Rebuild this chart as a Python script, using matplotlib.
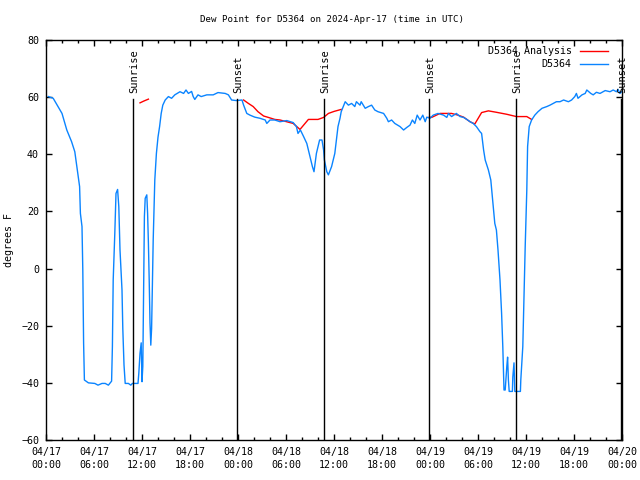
import numpy as np
import matplotlib
matplotlib.use("Agg")
import matplotlib.pyplot as plt

# hours since 04/17 00:00 UTC
obs_hours = [0.3, 0.9, 1.5, 2.0, 2.6, 3.2, 3.6, 3.8, 4.2, 4.3, 4.5, 4.6, 4.7, 4.8, 5.3, 6.1, 6.5, 7.0, 7.4, 7.8,
             8.2, 8.3, 8.4, 8.6, 8.75, 8.95, 9.1, 9.25, 9.5, 9.6, 9.75, 9.9, 10.3, 10.6, 10.8, 11.5, 11.6, 11.75,
             11.9, 12.0, 12.1, 12.3, 12.4, 12.6, 12.7, 12.8, 12.9, 13.0, 13.1, 13.2, 13.3, 13.4, 13.6, 13.8, 14.0,
             14.2, 14.4, 14.6, 14.9, 15.3, 15.7, 16.1, 16.75, 17.2, 17.5, 17.8, 18.2, 18.4, 18.6, 19.0, 19.4, 20.1,
             20.9, 21.5, 22.4, 22.8, 23.2, 23.8, 24.5, 24.7, 25.1, 25.5, 26.1, 26.75, 27.4, 27.6, 28.0, 28.6, 29.25,
             30.1, 30.9, 31.3, 31.5, 31.8, 32.2, 32.6, 33.0, 33.3, 33.5, 33.8, 34.2, 34.5, 34.7, 34.8, 35.1, 35.3,
             35.7, 36.1, 36.5, 36.75, 36.9, 37.4, 37.8, 38.2, 38.6, 38.8, 39.25, 39.4, 39.9, 40.3, 40.7, 41.1, 41.5,
             42.2, 42.6, 42.8, 43.2, 43.6, 44.25, 44.7, 45.1, 45.5, 45.8, 46.1, 46.4, 46.75, 47.1, 47.4, 47.6, 48.0,
             48.4, 49.0, 49.7, 50.1, 50.3, 50.7, 51.3, 51.75, 52.2, 52.6, 53.0, 53.4, 53.8, 54.25, 54.45, 54.7,
             54.9, 55.3, 55.6, 55.9, 56.1, 56.3, 56.5, 56.75, 56.95, 57.1, 57.2, 57.25, 57.4, 57.6, 57.7, 57.8,
             57.9, 58.3, 58.35, 58.5, 58.6, 59.3, 59.35, 59.6, 59.9, 60.1, 60.2, 60.4, 60.7, 61.1, 61.5, 62.0, 62.6,
             63.0, 63.4, 63.8, 64.25, 64.7, 65.3, 65.7, 66.1, 66.3, 66.5, 67.0, 67.4, 67.6, 68.1, 68.4, 68.8, 69.25,
             69.9, 70.5, 70.9, 71.3, 71.5, 71.75, 72.0]
obs_dew = [60.2, 59.6, 56.7, 54.3, 48.5, 44.4, 40.9, 36.8, 28.7, 19.3, 14.7, -0.5, -26, -39, -40, -40.2, -40.8, -40.2,
           -40.2, -40.8, -39.4, -27.3, -4, 12.3, 26.3, 27.7, 21.7, 6.5, -7.5, -21, -33.7, -40.2, -40.2, -40.8, -40.2,
           -40.2, -36.7, -29.7, -26, -39.6, -34.3, 18.2, 24.6, 25.8, 19.3, 9, -4, -19, -26.8, -21, -6, 10, 31, 40.3,
           46, 49.7, 54.3, 57.2, 59, 60.2, 59.6, 60.8, 61.9, 61.3, 62.5, 61.3, 62, 60.2, 59.2, 60.8, 60.2, 60.8, 60.8,
           61.6, 61.3, 60.8, 59, 58.8, 59, 57.2, 54.3, 53.7, 53, 52.6, 52, 50.8, 52, 52, 51.4, 51.8, 51.1, 49.7, 47.3,
           48.5, 46.2, 43.8, 39.2, 35.7, 33.9, 40.3, 45, 45, 41.5, 38, 33.9, 32.8, 35.7, 40.3, 49.7, 52.6, 54.9, 58.4,
           57.2, 57.8, 56.7, 58.4, 57.2, 58.4, 56.1, 56.7, 57.2, 55.5, 54.9, 54.3, 52.6, 51.4, 52, 50.8, 49.7, 48.5,
           49.4, 50.2, 52, 50.8, 53.7, 52, 53.7, 51.4, 53, 52.6, 53.7, 54.3, 53.7, 52.9, 54.3, 53.2, 54.3, 53.2, 52.9,
           52.2, 51.4, 50.8, 49.7, 47.9, 47.3, 41.5, 38, 34.5, 31, 21.7, 15.8, 13.5, 6.5, -4, -15.7, -27.3, -36.7,
           -42.5, -42.5, -34.3, -31, -39, -43, -43, -38, -33, -43, -43, -39, -27.3, 7.7, 27.5, 42.7, 49.7, 52, 53.7,
           54.9, 56.1, 56.7, 57.2, 57.8, 58.4, 58.4, 59, 58.4, 59, 60.2, 61.3, 59.6, 60.8, 61.3, 62.5, 61.3, 60.8,
           61.7, 61.3, 62.3, 61.9, 62.5, 61.9, 62.7, 61.3, 62]

# analysis series, NaN marks the gaps
ana_hours = [11.75, 12.2, 12.8, np.nan,
             24.7, 25.3, 25.9, 26.5, 27.2, 27.8, 28.6, 29.25, 30.9, 31.75, 32.8, 34.0, 34.7, 35.3, 36.0, 36.9, np.nan,
             47.9, 48.2, 49.25, 50.7, 51.5, 52.2, 53.0, 53.6, 54.45, 55.3, 56.3, 57.6, 58.8, 60.1, 60.7]
ana_dew = [58, 58.6, 59.3, np.nan,
           59, 57.8, 56.7, 54.9, 53.4, 52.9, 52.2, 52, 50.8, 48.7, 52.2, 52.2, 52.9, 54.3, 55, 55.7, np.nan,
           53, 52.9, 54.3, 54.3, 53.7, 53, 51.4, 50.6, 54.6, 55.2, 54.7, 54, 53.2, 53.2, 52.2]

sun_hours = [10.9, 23.9, 34.8, 47.9, 58.75, 71.9]
sun_names = ["Sunrise", "Sunset", "Sunrise", "Sunset", "Sunrise", "Sunset"]

tick_hours = [0, 6, 12, 18, 24, 30, 36, 42, 48, 54, 60, 66, 72]
tick_labels = ["04/17\n00:00", "04/17\n06:00", "04/17\n12:00", "04/17\n18:00",
               "04/18\n00:00", "04/18\n06:00", "04/18\n12:00", "04/18\n18:00",
               "04/19\n00:00", "04/19\n06:00", "04/19\n12:00", "04/19\n18:00", "04/20\n00:00"]

plt.rcParams["font.family"] = ["DejaVu Sans Mono"]
plt.rcParams["font.size"] = 7.2

fig = plt.figure(figsize=(6.4, 4.8), dpi=100)
ax = fig.add_axes([46 / 640, 40 / 480, 576 / 640, 400 / 480])

ax.plot(ana_hours, ana_dew, color="#ff0000", lw=1, label="D5364 Analysis")
ax.plot(obs_hours, obs_dew, color="#0a84ff", lw=1, label="D5364")

for h, name in zip(sun_hours, sun_names):
    ax.plot([h, h], [-60, 59.5], color="black", lw=1)
    ax.text(h + 0.15, 61.5, name, rotation=90, ha="center", va="bottom", fontsize=7.5)

ax.set_xlim(0, 72)
ax.set_ylim(-60, 80)
ax.set_xticks(tick_hours)
ax.set_xticklabels(tick_labels, linespacing=1.35)
ax.set_xticks(np.arange(0, 73, 2), minor=True)
ax.set_yticks(np.arange(-60, 81, 20))
ax.tick_params(direction="in", top=True, right=True, length=4, width=1, labelsize=7.2, pad=5)
ax.tick_params(which="minor", direction="in", top=True, length=2.2, width=1)
for s in ax.spines.values():
    s.set_linewidth(1)

ax.set_ylabel("degrees F", fontsize=7.2, labelpad=5)
fig.text(332 / 640, 1 - 19 / 480, "Dew Point for D5364 on 2024-Apr-17 (time in UTC)",
         ha="center", va="center", fontsize=6.6)

ax.legend(loc="upper right", markerfirst=False, frameon=False, handlelength=2.8,
          fontsize=7.2, borderaxespad=0.25, labelspacing=0.3, handletextpad=0.8,
          bbox_to_anchor=(1 - 8 / 576, 1))

fig.savefig("out.png", dpi=100)
